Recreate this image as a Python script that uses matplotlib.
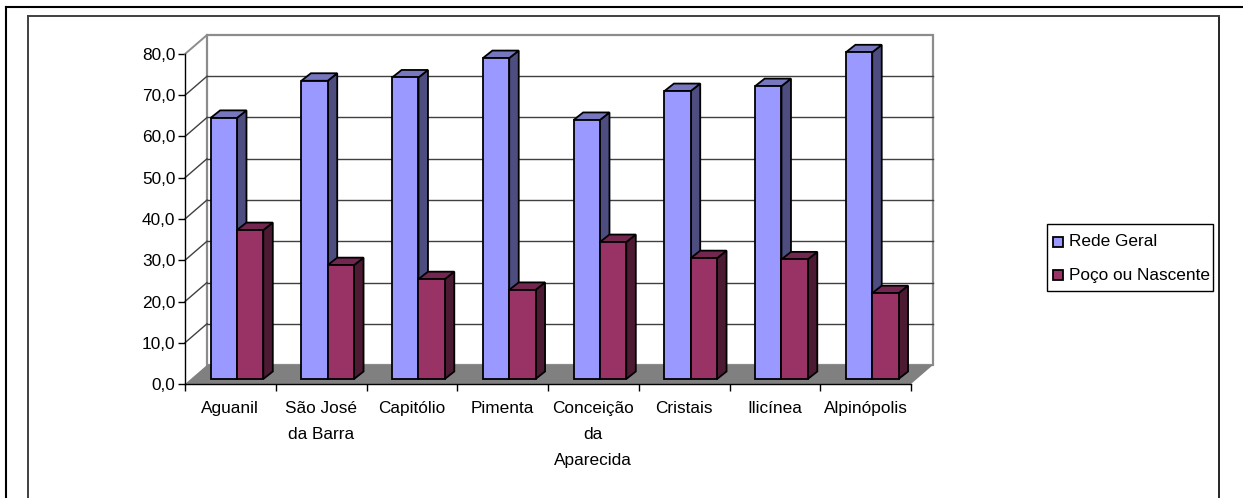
import matplotlib
matplotlib.use('Agg')
import matplotlib.pyplot as plt
from matplotlib.patches import Polygon, Rectangle
from matplotlib.transforms import Affine2D
import numpy as np

municipios = ['Aguanil', 'São José\nda Barra', 'Capitólio', 'Pimenta', 'Conceição\nda\nAparecida', 'Cristais', 'Ilicínea', 'Alpinópolis']
rede_geral = [63.3, 72.3, 73.1, 77.8, 62.8, 69.8, 71.0, 79.2]
poco_nascente = [36.1, 27.6, 24.2, 21.6, 33.2, 29.3, 29.0, 20.8]
ticks_y = [0, 10, 20, 30, 40, 50, 60, 70, 80]

W, H = 1243, 498
# desplazamientos en pixeles de la perspectiva falsa
PARED = (22, 19)
BARRA = (6.6, 5)
FONDO = (9.5, 7.5)
LETRA = 12.4

plt.rcParams['font.family'] = ['Liberation Sans', 'DejaVu Sans']
fig = plt.figure(figsize=(W / 100, H / 100), dpi=100)

def caja(x0, y0, x1, y1):
    return [x0 / W, 1 - y1 / H, (x1 - x0) / W, (y1 - y0) / H]

# marcos de la pagina
fondo = fig.add_axes([0, 0, 1, 1])
fondo.set_xlim(0, W)
fondo.set_ylim(H, 0)
fondo.set_axis_off()
fondo.plot([6.5, 6.5], [H, 6.5], color='black', lw=1.5)
fondo.plot([6.5, W], [6.5, 6.5], color='black', lw=1.5)
fondo.plot([1219.5, 1219.5], [16, H], color='black', lw=1.2)
fondo.plot([28, 28], [16, H], color='#404040', lw=1.4)
fondo.plot([28, 1219], [16, 16], color='#404040', lw=1.4)

ax = fig.add_axes(caja(185, 54, 911, 384))
n = len(municipios)
ax.set_xlim(0, n)
ax.set_ylim(0, 80)
ax.patch.set_alpha(0)

def desplazado(dx, dy):
    return ax.transData + Affine2D().translate(dx, dy)

t_pared = desplazado(*PARED)
x0, y0 = ax.transData.transform((0, 0))
x1, y1 = ax.transData.transform((n, 0))
_, ytop = ax.transData.transform((0, 80))

# pared del fondo y piso
ax.add_patch(Rectangle((0, 0), n, 80, transform=t_pared, facecolor='white', edgecolor='#8c8c8c', lw=1.6, zorder=1, clip_on=False))
for v in ticks_y[1:-1]:
    ax.plot([0, n], [v, v], transform=t_pared, color='#404040', lw=1, zorder=1.2, clip_on=False)
    _, yv = ax.transData.transform((0, v))
    ax.plot([x0, x0 + PARED[0]], [yv, yv + PARED[1]], transform=None, color='#404040', lw=1, zorder=1.2, clip_on=False)
ax.add_patch(Polygon([(x0, y0), (x1, y0), (x1 + PARED[0], y0 + PARED[1]), (x0 + PARED[0], y0 + PARED[1])],
                     closed=True, transform=None, facecolor='#808080', edgecolor='none', zorder=1.6, clip_on=False))
ax.plot([x0, x0 + PARED[0]], [ytop, ytop + PARED[1]], transform=None, color='#8c8c8c', lw=1.4, zorder=1.7, clip_on=False)

# barras
ancho = 0.29
t_barra = desplazado(*BARRA)
pos = np.arange(n) + 0.5
series = [
    (rede_geral, pos - ancho / 2, '#9999FF', '#4D4D80', '#7777BF'),
    (poco_nascente, pos + ancho / 2, '#993366', '#4D1A33', '#732650'),
]
dx, dy = FONDO
for i in range(n):
    for valores, xs, cara, lado, tapa in series:
        xc, v = xs[i], valores[i]
        px0, py0 = t_barra.transform((xc - ancho / 2, 0))
        px1, py1 = t_barra.transform((xc + ancho / 2, v))
        ax.add_patch(Polygon([(px1, py0), (px1 + dx, py0 + dy), (px1 + dx, py1 + dy), (px1, py1)], closed=True,
                             transform=None, facecolor=lado, edgecolor='black', lw=1.3, zorder=3 + i, clip_on=False))
        ax.add_patch(Polygon([(px0, py1), (px1, py1), (px1 + dx, py1 + dy), (px0 + dx, py1 + dy)], closed=True,
                             transform=None, facecolor=tapa, edgecolor='black', lw=1.3, zorder=3 + i, clip_on=False))
        ax.bar(xc, v, ancho, transform=t_barra, color=cara, edgecolor='black', lw=1.3, zorder=3.5 + i, clip_on=False)

ax.set_xlim(0, n)
ax.set_ylim(0, 80)
for s in ['top', 'right']:
    ax.spines[s].set_visible(False)
for s in ['left', 'bottom']:
    ax.spines[s].set_linewidth(1)
    ax.spines[s].set_zorder(2)
ax.set_yticks(ticks_y)
ax.set_yticklabels([f'{v:.1f}'.replace('.', ',') for v in ticks_y], fontsize=LETRA)
ax.set_xticks(range(n + 1))
ax.set_xticklabels([])
ax.tick_params(axis='y', length=5, width=1, pad=2)
ax.tick_params(axis='x', length=5, width=1)
for i, nombre in enumerate(municipios):
    ax.text(i + 0.5, -4.0, nombre, ha='center', va='top', fontsize=LETRA, linespacing=1.92, clip_on=False)

# leyenda
fondo.add_patch(Rectangle((1047, 224), 166, 67, facecolor='white', edgecolor='black', lw=1, zorder=5))
fondo.add_patch(Rectangle((1053, 237), 10, 10, facecolor='#9999FF', edgecolor='black', lw=1.3, zorder=6))
fondo.add_patch(Rectangle((1053, 270), 10, 10, facecolor='#993366', edgecolor='black', lw=1.3, zorder=6))
fondo.text(1069, 241, 'Rede Geral', fontsize=LETRA, va='center', zorder=6)
fondo.text(1069, 275, 'Poço ou Nascente', fontsize=LETRA, va='center', zorder=6)

fig.savefig('out.png', dpi=100)
